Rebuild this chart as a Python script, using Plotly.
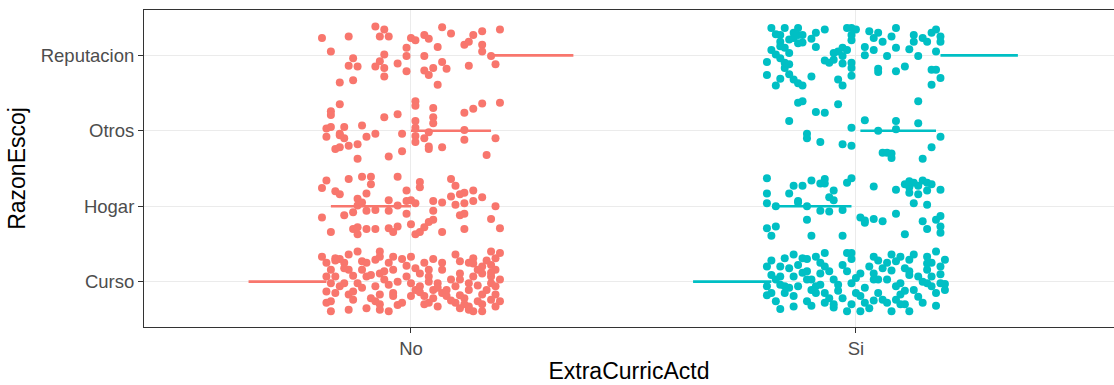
import plotly.graph_objects as go

# ---- categories ----
x_categories = ["No", "Si"]
y_categories = ["Curso", "Hogar", "Otros", "Reputacion"]
x_title = "ExtraCurricActd"
y_title = "RazonEscoj"
colors = {"No": "#F8766D", "Si": "#00BFC4"}

# ---- jittered observations: (x jitter, y jitter) in hundredths of a category unit ----
no_reputacion = [(-20,23),(-14,25),(-8,38),(-6,34),(-7,25),(-5,25),(-18,5),(-13,-4),(-14,-14),(-12,-15),
    (-16,-36),(-13,-33),(-8,-15),(-7,-8),(-6,1),(-6,-17),(-6,-28),(-3,-11),(-1,-21),(0,23),(1,20),(-1,10),
    (-1,-1),(3,27),(4,22),(6,11),(7,37),(9,29),(3,-1),(7,-9),(8,-18),(3,-20),(5,-17),(4,-26),(6,-39),
    (14,27),(16,32),(16,14),(12,14),(13,18),(16,5),(20,34),(18,-1),(19,-12),(13,-14)]
no_otros = [(-16,35),(-18,26),(-18,21),(-19,3),(-18,5),(-19,-8),(-16,-4),(-15,5),(-15,-10),(-16,-6),
    (-17,-24),(-16,-22),(-14,-20),(-12,-18),(-12,-37),(-11,7),(-10,-8),(-8,-4),(-6,18),(-3,22),(-5,-34),
    (-2,-27),(-2,-4),(1,39),(1,33),(1,13),(1,4),(1,-7),(1,-15),(5,30),(5,18),(5,10),(4,-2),(3,-10),
    (4,-24),(4,-21),(7,-22),(12,24),(14,29),(16,36),(20,37),(12,1),(12,-12),(17,-32),(19,-10)]
no_hogar = [(-19,34),(-20,24),(-14,36),(-11,39),(-9,39),(-9,29),(-10,17),(-3,39),(-17,20),(-16,16),
    (-12,10),(-12,1),(-11,5),(-10,-6),(-13,-8),(-15,-12),(-20,-15),(-18,-34),(-13,-30),(-12,-28),
    (-12,-37),(-10,-30),(-8,-30),(-8,-5),(-5,8),(-5,-6),(-3,1),(-1,-10),(-1,7),(-1,21),(-5,-29),
    (-3,-27),(-4,-34),(0,8),(1,4),(0,-24),(2,32),(2,25),(1,-37),(2,-34),(3,-28),(4,-21),(5,-18),
    (5,-6),(5,7),(7,5),(7,-34),(9,13),(9,36),(10,27),(11,16),(12,18),(14,21),(16,12),(14,7),(12,4),
    (10,2),(11,-12),(12,-10),(12,-30),(19,0),(18,-17),(20,-29)]
no_curso = [(-20,33),(-19,25),(-18,16),(-17,31),(-19,7),(-17,7),(-18,-2),(-19,-13),(-17,-15),(-18,-26),
    (-18,-39),(-15,25),(-14,16),(-14,36),(-16,-6),(-15,-2),(-14,-17),(-13,-13),(-13,-24),(-14,-37),
    (-12,-2),(-12,40),(-11,27),(-11,16),(-10,7),(-10,25),(-9,9),(-8,29),(-7,40),(-7,33),(-5,25),
    (-4,33),(-4,16),(-7,11),(-6,3),(-8,-6),(-7,-17),(-4,-15),(-5,-4),(-3,0),(-10,-35),(-7,-30),
    (-7,-37),(-5,-39),(-4,-19),(0,33),(-1,21),(-1,7),(0,-2),(1,-11),(2,-6),(2,11),(3,25),(4,16),
    (4,7),(4,0),(5,-11),(5,-22),(6,-33),(4,-28),(-2,-28),(0,-19),(3,-19),(6,-2),(7,-15),(8,-19),
    (8,-11),(7,16),(7,25),(10,36),(11,27),(13,25),(14,31),(16,20),(16,11),(11,11),(11,3),(10,-6),
    (13,-11),(13,-2),(14,7),(15,16),(18,40),(19,31),(20,38),(18,22),(19,16),(18,7),(18,-2),(17,-11),
    (19,-17),(18,-24),(16,-30),(15,-26),(13,-33),(12,-22),(13,-37),(11,-35),(10,-28),(16,-17),
    (19,-6),(20,3),(20,-26),(16,-39),(14,-39),(-16,30),(-11,-8),(-9,-22),(-2,30),(1,18),(3,-30),
    (9,3),(15,-5),(17,28),(-19,-28),(-15,18),(-6,14),(5,30),(12,-30),(19,-33),(-13,8),(-8,-26),
    (2,-14),(9,-25),(14,24),(-3,-31),(6,-8),(-17,28),(11,-18),(18,12)]
si_reputacion = [(-19,36),(-16,36),(-17,27),(-17,18),(-15,21),(-13,36),(-13,27),(-12,27),(-12,17),
    (-13,16),(-14,23),(-17,12),(-19,7),(-18,1),(-17,-4),(-20,-9),(-16,10),(-15,3),(-16,-10),(-15,-12),
    (-16,-17),(-20,-26),(-17,-31),(-18,-40),(-14,-32),(-13,-37),(-12,-40),(-10,-28),(-9,30),(-9,11),
    (-7,34),(-7,-7),(-5,-6),(-6,-10),(-4,5),(-3,10),(-2,7),(-3,-1),(-3,-11),(-1,-10),(-1,-17),(-1,-27),
    (-2,36),(-1,36),(-1,27),(0,34),(-4,-32),(-3,-40),(2,11),(2,0),(4,7),(4,23),(5,30),(6,18),(7,-1),
    (5,-18),(5,-22),(9,-21),(9,36),(9,10),(11,-15),(13,27),(13,18),(15,23),(16,18),(14,-1),(18,34),
    (19,25),(19,18),(18,5),(17,-19),(18,-19),(19,-30),(17,-39),(-14,30),(-10,22),(-18,28),(3,32),
    (17,30),(-5,3),(8,25),(12,8),(-15,-25),(-1,20)]
si_otros = [(-13,37),(-12,39),(-9,25),(-7,24),(-4,35),(-15,13),(-1,4),(2,14),(9,13),(9,2),(5,0),
    (14,10),(14,39),(-11,-4),(-11,-10),(-8,-15),(-3,-18),(-1,-20),(6,-29),(7,-29),(8,-30),(8,-36),
    (17,-22),(15,-37),(19,-8)]
si_hogar = [(-20,37),(-20,17),(-20,4),(-18,0),(-15,17),(-14,27),(-12,27),(-10,34),(-8,30),(-7,36),
    (-7,30),(-5,21),(-6,12),(-5,8),(-2,31),(-1,37),(-13,7),(-13,5),(-11,0),(-8,-6),(-6,-7),(-3,-5),
    (-11,-18),(-20,-29),(-18,-27),(-19,-39),(-10,-39),(-3,-39),(4,26),(9,22),(1,-15),(2,-22),(2,-19),
    (4,-17),(6,-20),(9,-10),(11,-37),(11,29),(12,25),(13,31),(15,34),(16,31),(17,29),(12,18),(14,16),
    (13,4),(16,21),(19,22),(16,2),(15,-20),(18,-18),(16,-30),(19,-27),(19,-35),(19,-13),(14,27),(12,33)]
si_curso = [(-20,20),(-19,9),(-20,-6),(-19,-15),(-18,-26),(-17,20),(-17,7),(-16,31),(-15,18),(-14,7),
    (-16,-6),(-16,-15),(-17,-4),(-14,-33),(-13,-6),(-12,31),(-11,3),(-11,14),(-10,-11),(-11,-26),
    (-9,33),(-10,3),(-9,-15),(-8,11),(-8,-4),(-7,-28),(-7,38),(-6,14),(-5,3),(-7,-15),(-5,-30),(-4,-4),
    (-2,14),(-2,38),(-1,38),(-3,-22),(-2,-39),(-1,-2),(0,-15),(-1,-30),(1,11),(1,-39),(1,-19),(2,-28),
    (3,20),(4,33),(4,11),(5,-15),(5,3),(7,-28),(7,3),(7,25),(8,-39),(8,36),(9,-6),(10,-17),(10,33),
    (11,18),(11,-30),(12,-39),(12,9),(12,29),(13,-11),(14,7),(15,-28),(16,-2),(16,33),(16,16),(17,25),
    (17,7),(18,40),(18,-15),(19,-2),(20,29),(20,-11),(19,20),(10,-2),(9,-24),(4,3),(6,18),(-8,25),
    (-14,-19),(-18,3),(-19,28),(-15,-8),(-12,12),(-9,-6),(-6,-22),(-3,22),(0,5),(2,-8),(5,28),(8,15),
    (11,-12),(14,-20),(17,-6),(19,10),(-17,-36),(-13,22),(-10,-32),(-4,-12),(3,-35),(6,-24),(9,27),
    (13,36),(15,0),(18,-32),(-20,-18),(-7,20),(-1,30),(4,-25),(10,-30),(16,24),(-14,36),(-5,-34),
    (12,14),(20,-3),(-11,30)]

groups = {
    "No": {"Curso": no_curso, "Hogar": no_hogar, "Otros": no_otros, "Reputacion": no_reputacion},
    "Si": {"Curso": si_curso, "Hogar": si_hogar, "Otros": si_otros, "Reputacion": si_reputacion},
}

# ---- horizontal summary segments: start / end offsets from category centre, per y level ----
seg_start = {"No": [-0.365, -0.18, 0.0, 0.18], "Si": [-0.366, -0.18, 0.01, 0.19]}
seg_end = {"No": [-0.19, 0.0, 0.18, 0.365], "Si": [-0.19, -0.01, 0.18, 0.364]}

fig = go.Figure()

for xi, xc in enumerate(x_categories):
    xv = xi + 1
    lx, ly = [], []
    for yi, yc in enumerate(y_categories):
        lx += [xv + seg_start[xc][yi], xv + seg_end[xc][yi], None]
        ly += [yi + 1, yi + 1, None]
    fig.add_trace(go.Scatter(x=lx, y=ly, mode="lines",
                             line=dict(color=colors[xc], width=2.7),
                             showlegend=False, hoverinfo="skip"))

for xi, xc in enumerate(x_categories):
    xv = xi + 1
    px, py = [], []
    for yi, yc in enumerate(y_categories):
        for jx, jy in groups[xc][yc]:
            px.append(xv + jx / 100)
            py.append(yi + 1 + jy / 100)
    fig.add_trace(go.Scatter(x=px, y=py, mode="markers",
                             marker=dict(color=colors[xc], size=8, line=dict(width=0)),
                             showlegend=False))

font_family = "Liberation Sans, Arial, sans-serif"
fig.update_layout(
    width=1114, height=385,
    margin=dict(l=144, r=0, t=10, b=58),
    paper_bgcolor="white", plot_bgcolor="white",
    font=dict(family=font_family),
    xaxis=dict(
        range=[0.4, 2.58], tickvals=[1, 2], ticktext=x_categories,
        showgrid=True, gridcolor="#EBEBEB", gridwidth=1, zeroline=False,
        showline=True, linecolor="#333333", linewidth=1, mirror=True,
        ticks="outside", ticklen=5, tickcolor="#333333", tickwidth=1,
        tickfont=dict(size=18.5, color="#4D4D4D"),
        title=dict(text=x_title, font=dict(size=23, color="black"), standoff=4),
    ),
    yaxis=dict(
        range=[0.4, 4.6], tickvals=[1, 2, 3, 4], ticktext=y_categories,
        showgrid=True, gridcolor="#EBEBEB", gridwidth=1, zeroline=False,
        showline=True, linecolor="#333333", linewidth=1, mirror=False,
        ticks="outside", ticklen=5, tickcolor="#333333", tickwidth=1,
        tickfont=dict(size=18.5, color="#4D4D4D"),
        title=dict(text=y_title, font=dict(size=23, color="black"), standoff=8),
    ),
)

fig.write_html("out.html")
